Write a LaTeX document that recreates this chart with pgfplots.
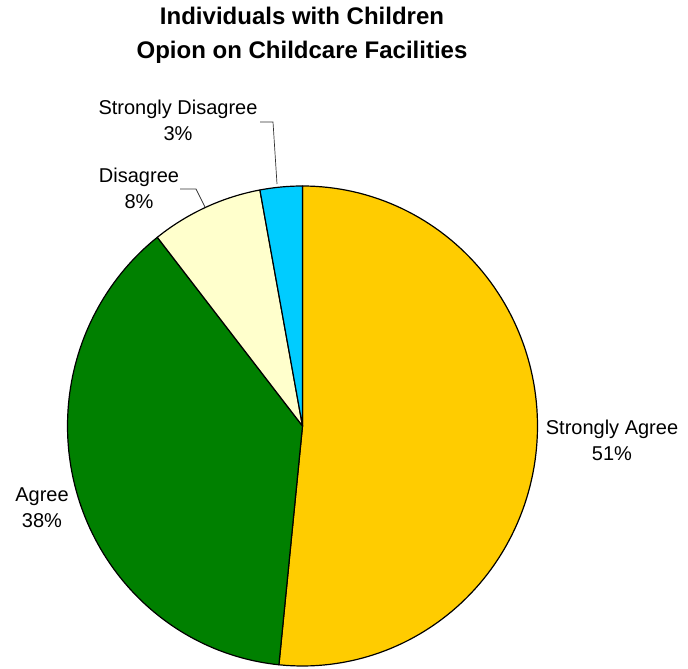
\documentclass[border=0pt]{standalone}
\usepackage{pgfplots}
\pgfplotsset{compat=1.18}
\usepackage{pgfplotstable}
\usepackage{fontspec}
\setmainfont{Liberation Sans}
\definecolor{cSA}{HTML}{FFCC00}
\definecolor{cA}{HTML}{008000}
\definecolor{cD}{HTML}{FFFFCC}
\definecolor{cSD}{HTML}{00CCFF}
% share of each answer (percent)
\pgfplotstableread{
label value
StronglyAgree 51.6
Agree 37.8
Disagree 7.7
StronglyDisagree 2.9
}\piedata
\tikzset{lbl/.style={font=\fontsize{20bp}{26bp}\selectfont, align=center, inner sep=0pt}}
\begin{document}
\begin{tikzpicture}
\pgfplotstablegetelem{0}{value}\of\piedata \let\vA\pgfplotsretval
\pgfplotstablegetelem{1}{value}\of\piedata \let\vB\pgfplotsretval
\pgfplotstablegetelem{2}{value}\of\piedata \let\vC\pgfplotsretval
\pgfplotstablegetelem{3}{value}\of\piedata \let\vD\pgfplotsretval
\pgfmathsetmacro\aZero{90}
\pgfmathsetmacro\aOne{90-3.6*\vA}
\pgfmathsetmacro\aTwo{\aOne-3.6*\vB}
\pgfmathsetmacro\aThree{\aTwo-3.6*\vC}
\pgfmathsetmacro\aFour{\aThree-3.6*\vD}
\def\cx{302.5}\def\cy{243}\def\rx{235}\def\ry{240}
\begin{axis}[name=ax,
  scale only axis, width=688bp, height=669bp,
  xmin=0, xmax=688, ymin=0, ymax=669,
  axis lines=none, clip=false,
]
\addplot[fill=cSA, draw=black, line width=1.2pt, line join=round, domain=\aZero:\aOne, samples=120, variable=\t]
  ({\cx+\rx*cos(t)}, {\cy+\ry*sin(t)}) -- (\cx,\cy) -- cycle;
\addplot[fill=cA, draw=black, line width=1.2pt, line join=round, domain=\aOne:\aTwo, samples=100, variable=\t]
  ({\cx+\rx*cos(t)}, {\cy+\ry*sin(t)}) -- (\cx,\cy) -- cycle;
\addplot[fill=cD, draw=black, line width=1.2pt, line join=round, domain=\aTwo:\aThree, samples=30, variable=\t]
  ({\cx+\rx*cos(t)}, {\cy+\ry*sin(t)}) -- (\cx,\cy) -- cycle;
\addplot[fill=cSD, draw=black, line width=1.2pt, line join=round, domain=\aThree:\aFour, samples=20, variable=\t]
  ({\cx+\rx*cos(t)}, {\cy+\ry*sin(t)}) -- (\cx,\cy) -- cycle;
% leader lines
\addplot[black!80, line width=0.7pt, mark=none] coordinates {(260,547) (273,547) (277,485)};
\addplot[black!80, line width=0.7pt, mark=none] coordinates {(180,480) (196,480) (205,462)};
% labels
\node[lbl] at (178,549) {Strongly Disagree\\3\%};
\node[lbl] at (139,481) {Disagree\\8\%};
\node[lbl] at (612,229) {Strongly Agree\\51\%};
\node[lbl] at (42,161) {Agree\\38\%};
\node[lbl, font=\bfseries\fontsize{24bp}{34bp}\selectfont] at (302,634) {Individuals with Children\\Opion on Childcare Facilities};
\end{axis}
\pgfresetboundingbox
\path (ax.south west) rectangle (ax.north east);
\end{tikzpicture}
\end{document}
